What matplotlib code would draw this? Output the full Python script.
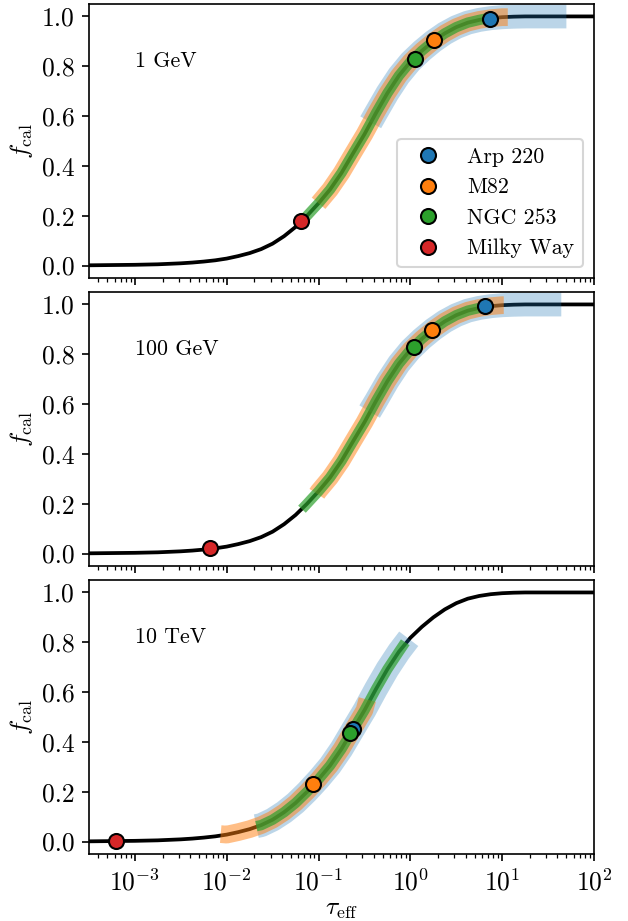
import numpy as np
import matplotlib
matplotlib.use("Agg")
import matplotlib.pyplot as plt

plt.rcParams["font.family"] = "serif"
plt.rcParams["font.serif"] = ["cmr10"]
plt.rcParams["mathtext.fontset"] = "cm"
plt.rcParams["axes.formatter.use_mathtext"] = False
plt.rcParams["font.size"] = 10.5

# f_cal(tau_eff) curve (log10 tau, f)
log_tau = [-3.5, -3.25, -3.0, -2.75, -2.5, -2.375, -2.25, -2.125, -2.0, -1.875,
           -1.75, -1.625, -1.5, -1.375, -1.25, -1.125, -1.0, -0.875, -0.75,
           -0.625, -0.5, -0.375, -0.25, -0.125, 0.0, 0.125, 0.25, 0.375, 0.5,
           0.625, 0.75, 0.875, 1.0, 1.125, 1.25, 1.5, 1.75, 2.0]
f_curve = [0.001, 0.002, 0.003, 0.005, 0.009, 0.012, 0.016, 0.021, 0.028, 0.038,
           0.050, 0.066, 0.088, 0.118, 0.155, 0.200, 0.250, 0.305, 0.372,
           0.450, 0.527, 0.612, 0.692, 0.762, 0.818, 0.862, 0.900, 0.932, 0.957,
           0.975, 0.986, 0.993, 0.997, 0.999, 1.0, 1.0, 1.0, 1.0]

energies = ["1 GeV", "100 GeV", "10 TeV"]
galaxies = ["Arp 220", "M82", "NGC 253", "Milky Way"]
colors = ["C0", "C1", "C2", "C3"]

# galaxy points per panel (order as galaxies)
pt_tau = [[7.3, 1.83, 1.11, 0.065],
          [6.5, 1.73, 1.10, 0.0065],
          [0.238, 0.088, 0.218, 0.00063]]
pt_f = [[0.990, 0.906, 0.830, 0.179],
        [0.993, 0.898, 0.830, 0.021],
        [0.453, 0.232, 0.436, 0.002]]

# uncertainty bands for Arp 220, M82, NGC 253: tau range and f at ends
band_tau_lo = [[0.37, 0.100, 0.066], [0.36, 0.096, 0.066], [0.021, 0.0086, 0.021]]
band_tau_hi = [[50.0, 11.5, 6.8], [44.0, 10.4, 6.3], [0.96, 0.34, 0.88]]
band_f_lo = [[0.575, 0.250, 0.178], [0.570, 0.240, 0.178], [0.062, 0.030, 0.062]]
band_f_hi = [[1.0, 0.997, 0.992], [1.0, 0.997, 0.990], [0.814, 0.570, 0.800]]

band_lw = [11.5, 8.5, 5.0]
band_alpha = [0.3, 0.5, 0.7]

tau_curve = 10.0**np.array(log_tau)
f_arr = np.array(f_curve)

fig, axes = plt.subplots(3, 1, figsize=(628/150, 921/150), dpi=150, sharex=True)
fig.subplots_adjust(left=0.1417, right=0.9459, top=0.9957, bottom=0.0727, hspace=0.051)

for i, ax in enumerate(axes):
    ax.plot(tau_curve, f_arr, color="k", lw=1.8, zorder=1)
    for j in range(3):
        lo, hi = band_tau_lo[i][j], band_tau_hi[i][j]
        inside = (tau_curve > lo) & (tau_curve < hi)
        bx = np.concatenate([[lo], tau_curve[inside], [hi]])
        by = np.concatenate([[band_f_lo[i][j]], f_arr[inside], [band_f_hi[i][j]]])
        ax.plot(bx, by, color=colors[j], lw=band_lw[j], alpha=band_alpha[j],
                solid_capstyle="butt", zorder=2)
    for j, name in enumerate(galaxies):
        ax.plot(pt_tau[i][j], pt_f[i][j], "o", color=colors[j], mec="k", mew=1.0,
                ms=7.2, label=name, zorder=3)
    ax.set_xscale("log")
    ax.set_xlim(10**-3.5, 1e2)
    ax.set_ylim(-0.05, 1.05)
    ax.set_yticks([0.0, 0.2, 0.4, 0.6, 0.8, 1.0])
    ax.set_yticklabels(["0.0", "0.2", "0.4", "0.6", "0.8", "1.0"])
    ax.tick_params(axis="both", labelsize=12.3)
    ax.set_ylabel(r"$f_{\rm cal}$", fontsize=12.3, labelpad=3)
    ax.text(1e-3, 0.82, energies[i], ha="left", va="center")
    if i == 0:
        ax.legend(loc="lower right")

axes[-1].set_xlabel(r"$\tau_{\rm eff}$", fontsize=12.3, labelpad=1)

plt.savefig("out.png", dpi=150)
